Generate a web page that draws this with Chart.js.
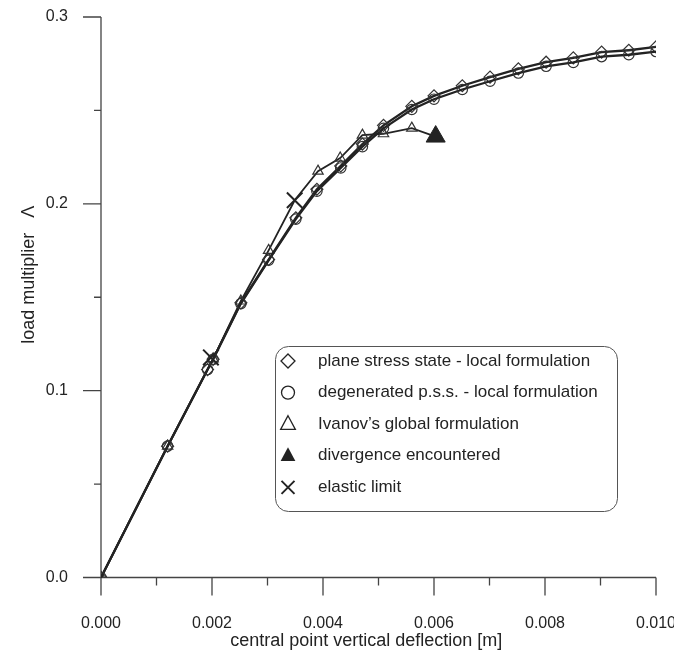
<!DOCTYPE html>
<html>
<head>
<meta charset="utf-8">
<script src="https://cdn.jsdelivr.net/npm/chart.js@4.4.1/dist/chart.umd.min.js"></script>
<style>
  html, body { margin: 0; padding: 0; background: #ffffff; }
  #wrap { width: 674px; height: 653px; position: relative; }
  canvas { display: block; }
</style>
</head>
<body>
<div id="wrap"><canvas id="c" width="674" height="653"></canvas></div>
<script>
// ---- data ----
const xLocal = [0, 0.00120, 0.00192, 0.00202, 0.00252, 0.00302, 0.00351, 0.00389, 0.00432, 0.00471, 0.00509, 0.00560, 0.00600, 0.00651, 0.00701, 0.00752, 0.00802, 0.00851, 0.00902, 0.00951, 0.01000];
const yPlaneStress = [0, 0.0703, 0.1113, 0.1168, 0.1470, 0.1702, 0.1925, 0.2078, 0.2203, 0.2320, 0.2420, 0.2522, 0.2578, 0.2632, 0.2678, 0.2722, 0.2758, 0.2781, 0.2812, 0.2822, 0.2840];
const yDegenerated = [0, 0.0703, 0.1113, 0.1168, 0.1466, 0.1698, 0.1918, 0.2068, 0.2192, 0.2306, 0.2404, 0.2505, 0.2560, 0.2612, 0.2656, 0.2700, 0.2736, 0.2757, 0.2788, 0.2798, 0.2815];
const xIvanov = [0, 0.00120, 0.00202, 0.00252, 0.00302, 0.00349, 0.00391, 0.00431, 0.00471, 0.00509, 0.00560, 0.00603];
const yIvanov = [0, 0.0703, 0.1170, 0.1480, 0.1751, 0.2019, 0.2175, 0.2245, 0.2368, 0.2375, 0.2405, 0.2360];
const xElastic = [0.00198, 0.00349];
const yElastic = [0.1178, 0.2019];
const xDivergence = [0.00603];
const yDivergence = [0.2360];

const xMajorTicks = [0, 0.002, 0.004, 0.006, 0.008, 0.010];
const xMinorTicks = [0.001, 0.003, 0.005, 0.007, 0.009];
const yMajorTicks = [0, 0.1, 0.2, 0.3];
const yMinorTicks = [0.05, 0.15, 0.25];

const xTitle = 'central point vertical deflection [m]';
const yTitle = 'load multiplier   \u039B';
const legendLabels = [
  'plane stress state - local formulation',
  'degenerated p.s.s. - local formulation',
  'Ivanov\u2019s global formulation',
  'divergence encountered',
  'elastic limit'
];

// ---- helpers ----
const pts = (xs, ys) => xs.map((v, i) => ({ x: v, y: ys[i] }));
const INK = '#232323';
const FONT = '"Liberation Sans", Arial, Helvetica, sans-serif';

const axesPlugin = {
  id: 'axesTicks',
  beforeDatasetsDraw(chart) {
    const { ctx, scales: { x, y } } = chart;
    const x0 = x.getPixelForValue(0), x1 = x.getPixelForValue(0.010);
    const y0 = y.getPixelForValue(0), y1 = y.getPixelForValue(0.3);
    ctx.save();
    ctx.strokeStyle = '#444';
    ctx.lineWidth = 1.3;
    ctx.beginPath();
    ctx.moveTo(x0, y1); ctx.lineTo(x0, y0);
    ctx.moveTo(x0, y0); ctx.lineTo(x1, y0);
    xMajorTicks.forEach(v => { const p = x.getPixelForValue(v); ctx.moveTo(p, y0); ctx.lineTo(p, y0 + 18); });
    xMinorTicks.forEach(v => { const p = x.getPixelForValue(v); ctx.moveTo(p, y0); ctx.lineTo(p, y0 + 8); });
    yMajorTicks.forEach(v => { const p = y.getPixelForValue(v); ctx.moveTo(x0, p); ctx.lineTo(x0 - 18, p); });
    yMinorTicks.forEach(v => { const p = y.getPixelForValue(v); ctx.moveTo(x0, p); ctx.lineTo(x0 - 7, p); });
    ctx.stroke();
    ctx.restore();
  }
};

function drawMarker(ctx, kind, cx, cy) {
  ctx.save();
  ctx.strokeStyle = INK;
  ctx.fillStyle = INK;
  ctx.lineWidth = 1.3;
  ctx.beginPath();
  if (kind === 'diamond') {
    const r = 7;
    ctx.moveTo(cx, cy - r); ctx.lineTo(cx + r, cy); ctx.lineTo(cx, cy + r); ctx.lineTo(cx - r, cy); ctx.closePath();
    ctx.stroke();
  } else if (kind === 'circle') {
    ctx.arc(cx, cy, 6.5, 0, Math.PI * 2);
    ctx.stroke();
  } else if (kind === 'triangle' || kind === 'filled') {
    const r = 8.5;
    ctx.moveTo(cx, cy - r);
    ctx.lineTo(cx + r * 0.866, cy + r * 0.5 + 1);
    ctx.lineTo(cx - r * 0.866, cy + r * 0.5 + 1);
    ctx.closePath();
    if (kind === 'filled') ctx.fill(); else ctx.stroke();
  } else if (kind === 'cross') {
    const r = 6.5;
    ctx.lineWidth = 2;
    ctx.moveTo(cx - r, cy - r); ctx.lineTo(cx + r, cy + r);
    ctx.moveTo(cx + r, cy - r); ctx.lineTo(cx - r, cy + r);
    ctx.stroke();
  }
  ctx.restore();
}

const textPlugin = {
  id: 'boxLegendAndTitles',
  afterDraw(chart) {
    const { ctx, scales: { x, y } } = chart;
    const kinds = ['diamond', 'circle', 'triangle', 'filled', 'cross'];
    ctx.save();
    // legend box
    ctx.fillStyle = 'rgba(255,255,255,0.92)';
    ctx.strokeStyle = '#555';
    ctx.lineWidth = 1;
    ctx.beginPath();
    ctx.roundRect(275.5, 346.5, 342, 165, 13);
    ctx.fill();
    ctx.stroke();
    ctx.font = '17px ' + FONT;
    ctx.textBaseline = 'middle';
    ctx.textAlign = 'left';
    legendLabels.forEach((t, i) => {
      const cy = 361 + i * 31.6;
      drawMarker(ctx, kinds[i], 288, cy);
      ctx.fillStyle = INK;
      ctx.fillText(t, 318, cy);
    });
    // axis titles
    ctx.fillStyle = INK;
    ctx.font = '18px ' + FONT;
    ctx.textAlign = 'center';
    ctx.textBaseline = 'middle';
    ctx.fillText(xTitle, x.getPixelForValue(0.00478), 641);
    ctx.translate(29, y.getPixelForValue(0.162));
    ctx.rotate(-Math.PI / 2);
    ctx.fillText(yTitle, 0, 0);
    ctx.restore();
  }
};

new Chart(document.getElementById('c'), {
  type: 'scatter',
  data: {
    datasets: [
      {
        label: legendLabels[0],
        data: pts(xLocal, yPlaneStress),
        showLine: true,
        borderColor: INK,
        borderWidth: 2.3,
        pointStyle: 'rectRot',
        pointRadius: 6,
        pointBorderWidth: 1.2,
        pointBorderColor: '#333',
        pointBackgroundColor: 'rgba(0,0,0,0)',
        order: 3
      },
      {
        label: legendLabels[1],
        data: pts(xLocal, yDegenerated),
        showLine: true,
        borderColor: INK,
        borderWidth: 2.3,
        pointStyle: 'circle',
        pointRadius: 5.2,
        pointBorderWidth: 1.2,
        pointBorderColor: '#333',
        pointBackgroundColor: 'rgba(0,0,0,0)',
        order: 2
      },
      {
        label: legendLabels[2],
        data: pts(xIvanov, yIvanov),
        showLine: true,
        borderColor: INK,
        borderWidth: 1.8,
        pointStyle: 'triangle',
        pointRadius: xIvanov.map((v, i) => (i === 5 || i === xIvanov.length - 1) ? 0 : 6),
        pointBorderWidth: 1.2,
        pointBorderColor: '#333',
        pointBackgroundColor: 'rgba(0,0,0,0)',
        order: 4
      },
      {
        label: legendLabels[3],
        data: pts(xDivergence, yDivergence),
        showLine: false,
        pointStyle: 'triangle',
        pointRadius: 11,
        pointBorderWidth: 1,
        pointBorderColor: INK,
        pointBackgroundColor: INK,
        order: 1
      },
      {
        label: legendLabels[4],
        data: pts(xElastic, yElastic),
        showLine: false,
        pointStyle: 'crossRot',
        pointRadius: 11,
        pointBorderWidth: 2,
        pointBorderColor: INK,
        order: 0
      }
    ]
  },
  options: {
    responsive: false,
    devicePixelRatio: 1,
    animation: false,
    events: [],
    layout: { padding: 0 },
    plugins: { legend: { display: false }, tooltip: { enabled: false } },
    elements: { line: { tension: 0 } },
    scales: {
      x: {
        type: 'linear',
        min: 0,
        max: 0.010,
        grid: { display: false },
        border: { display: false },
        afterFit: s => { s.height = 75.5; s.paddingLeft = 0; s.paddingRight = 18; },
        afterBuildTicks: s => { s.ticks = xMajorTicks.map(v => ({ value: v })); },
        ticks: {
          padding: 28,
          maxRotation: 0,
          color: INK,
          font: { family: FONT, size: 16 },
          callback: v => Number(v).toFixed(3)
        },
        title: { display: false }
      },
      y: {
        type: 'linear',
        min: 0,
        max: 0.3,
        grid: { display: false },
        border: { display: false },
        afterFit: s => { s.width = 101; s.paddingTop = 17; s.paddingBottom = 0; },
        afterBuildTicks: s => { s.ticks = yMajorTicks.map(v => ({ value: v })); },
        ticks: {
          padding: 25,
          color: INK,
          font: { family: FONT, size: 16 },
          callback: v => Number(v).toFixed(1)
        },
        title: { display: false }
      }
    }
  },
  plugins: [axesPlugin, textPlugin]
});
</script>
</body>
</html>
